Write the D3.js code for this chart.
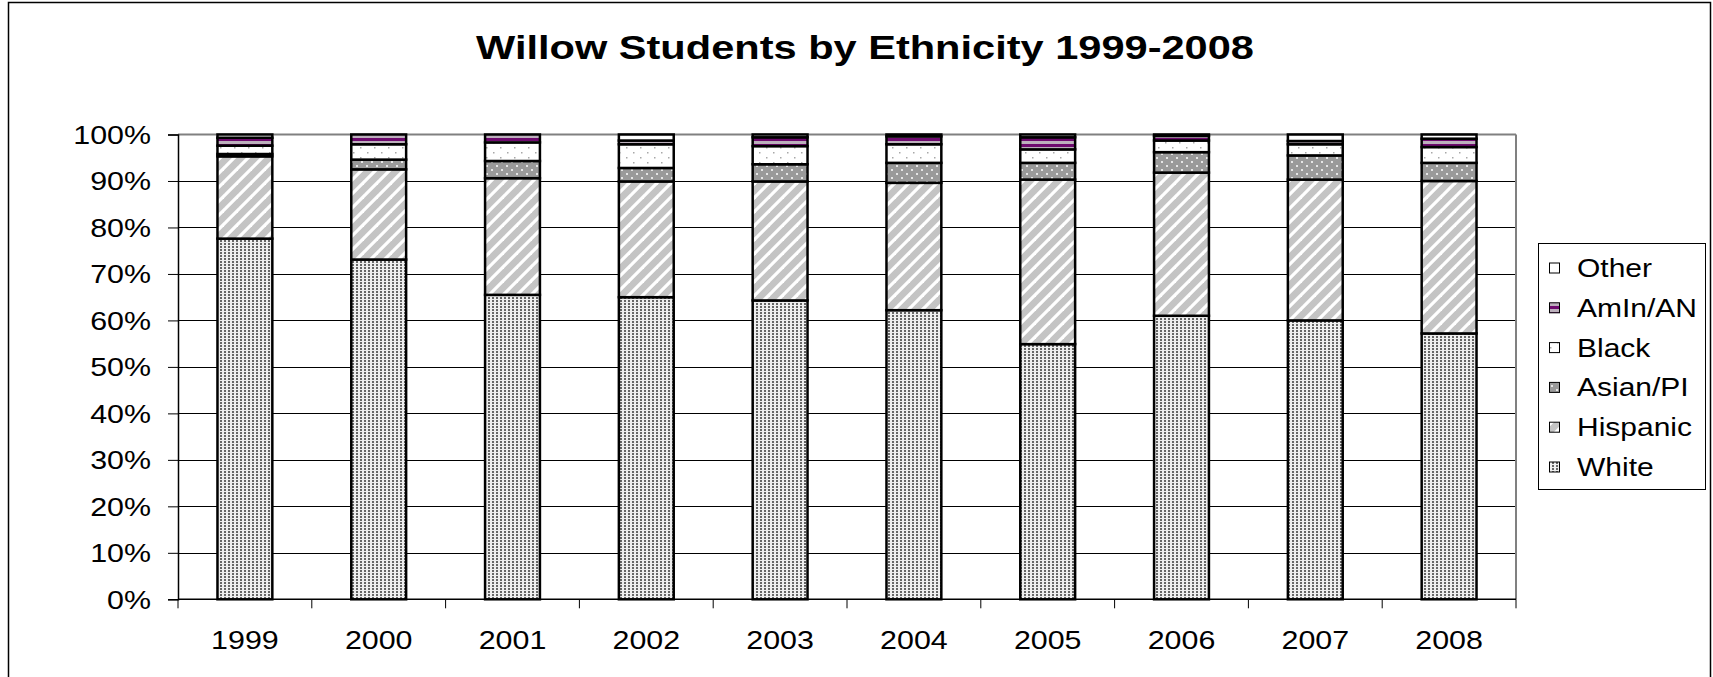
<!DOCTYPE html>
<html><head><meta charset="utf-8">
<script src="https://cdn.jsdelivr.net/npm/d3@7"></script>
<style>
html,body{margin:0;padding:0;background:#fff;}
svg{display:block;font-family:"Liberation Sans",Arial,sans-serif;}
</style></head>
<body>
<svg id="chart" width="1713" height="677"></svg>
<script>
const title = "Willow Students by Ethnicity 1999-2008";
const years = ["1999","2000","2001","2002","2003","2004","2005","2006","2007","2008"];
const seriesNames = ["White","Hispanic","Asian/PI","Black","AmIn/AN","Other"];
const white    = [77.6, 73.1, 65.5, 65.0, 64.3, 62.2, 54.9, 61.0, 60.0, 57.2];
const hispanic = [17.7, 19.4, 25.1, 24.9, 25.6, 27.4, 35.4, 30.8, 30.3, 32.8];
const asianPI  = [0.5, 2.1, 3.7, 2.9, 3.7, 4.3, 3.6, 4.4, 5.2, 3.9];
const black    = [1.8, 3.3, 4.0, 5.1, 3.9, 4.0, 2.9, 2.5, 2.4, 3.4];
const amInAN   = [1.7, 2.1, 1.7, 0.8, 1.9, 1.7, 2.6, 1.0, 0.7, 1.8];
const other    = [0.7, 0.0, 0.0, 1.3, 0.6, 0.4, 0.6, 0.3, 1.4, 0.9];
const yTicks = [0,10,20,30,40,50,60,70,80,90,100];
const yTickLabels = ["0%","10%","20%","30%","40%","50%","60%","70%","80%","90%","100%"];

const seriesValues = [white, hispanic, asianPI, black, amInAN, other];
const table = years.map((y,i)=>{
  const row = {year:y};
  seriesNames.forEach((s,k)=> row[s] = seriesValues[k][i]);
  return row;
});

const svg = d3.select("#chart");
const defs = svg.append("defs");

function pat(id,w,h,build){
  const p = defs.append("pattern").attr("id",id).attr("patternUnits","userSpaceOnUse")
    .attr("width",w).attr("height",h);
  build(p);
}
pat("pWhite",4,3,p=>{
  p.append("rect").attr("width",4).attr("height",3).attr("fill","#eeeeee");
  p.append("rect").attr("x",0).attr("y",0).attr("width",2).attr("height",2).attr("fill","#666666");
});
pat("pHisp",14,14,p=>{
  p.append("rect").attr("width",14).attr("height",14).attr("fill","#c4c4c4");
  const g = p.append("g").attr("stroke","#ffffff").attr("stroke-width",3.2);
  g.append("line").attr("x1",-2).attr("y1",16).attr("x2",16).attr("y2",-2);
  g.append("line").attr("x1",-9).attr("y1",9).attr("x2",9).attr("y2",-9);
  g.append("line").attr("x1",5).attr("y1",23).attr("x2",23).attr("y2",5);
});
pat("pAsian",10,8,p=>{
  p.append("rect").attr("width",10).attr("height",8).attr("fill","#9a9a9a");
  p.append("rect").attr("x",1).attr("y",1).attr("width",2).attr("height",2).attr("fill","#e6e6e6");
  p.append("rect").attr("x",6).attr("y",5).attr("width",2).attr("height",2).attr("fill","#e6e6e6");
});
pat("pBlack",14,10,p=>{
  p.append("rect").attr("width",14).attr("height",10).attr("fill","#ffffff");
  p.append("rect").attr("x",3).attr("y",2).attr("width",1.5).attr("height",1.5).attr("fill","#a8a8a8");
  p.append("rect").attr("x",10).attr("y",7).attr("width",1.5).attr("height",1.5).attr("fill","#a8a8a8");
});
pat("pAmIn",8,6,p=>{
  p.append("rect").attr("width",8).attr("height",6).attr("fill","#bcb0bc");
  p.append("rect").attr("y",0).attr("width",8).attr("height",3).attr("fill","#6e0a6e");
});
const fills = {"White":"url(#pWhite)","Hispanic":"url(#pHisp)","Asian/PI":"url(#pAsian)",
  "Black":"url(#pBlack)","AmIn/AN":"url(#pAmIn)","Other":"#ffffff"};

svg.append("rect").attr("x",8.5).attr("y",2.5).attr("width",1702).attr("height",720)
  .attr("fill","none").attr("stroke","#000").attr("stroke-width",1.5);

svg.append("text").attr("transform","translate(865,59) scale(1.26,1)")
  .attr("text-anchor","middle").attr("font-size",33).attr("font-weight","bold")
  .attr("fill","#000").text(title);

const L=178, R=1516, T=134.5, B=599.3;
const x = d3.scaleBand().domain(years).range([L,R]).paddingInner(0.59).paddingOuter(0.295);
const xc = d3.scaleBand().domain(years).range([L,R]);
const y = d3.scaleLinear().domain([0,100]).range([B,T]);

svg.append("g").selectAll("line").data(yTicks.filter(t=>t>0 && t<100)).join("line")
  .attr("x1",L).attr("x2",R).attr("y1",d=>Math.round(y(d))+0.5).attr("y2",d=>Math.round(y(d))+0.5)
  .attr("stroke","#000").attr("stroke-width",1);
svg.append("line").attr("x1",L).attr("x2",R).attr("y1",y(100)).attr("y2",y(100))
  .attr("stroke","#808080").attr("stroke-width",2);
svg.append("line").attr("x1",R).attr("x2",R).attr("y1",y(100)).attr("y2",B)
  .attr("stroke","#808080").attr("stroke-width",2);

const yAxis = d3.axisLeft(y).tickValues(yTicks).tickSize(10).tickFormat(()=> "");
const ya = svg.append("g").attr("transform",`translate(${L},0)`).call(yAxis);
ya.select(".domain").attr("stroke","#000").attr("stroke-width",1.5);
ya.selectAll(".tick line").attr("stroke","#000");
svg.append("g").selectAll("text").data(yTicks).join("text")
  .attr("transform",(d)=>`translate(151,${y(d)+9.5}) scale(1.17,1)`)
  .attr("text-anchor","end").attr("font-size",26).attr("fill","#000")
  .text((d,i)=>yTickLabels[i]);

const xa = svg.append("g").attr("transform",`translate(0,${B})`);
xa.append("line").attr("x1",L).attr("x2",R).attr("stroke","#000").attr("stroke-width",1.5);
const bounds = years.map(d=>xc(d)).concat([R]);
xa.selectAll("line.tk").data(bounds).join("line").attr("class","tk")
  .attr("x1",d=>d).attr("x2",d=>d).attr("y1",0).attr("y2",9).attr("stroke","#000");
svg.append("g").selectAll("text").data(years).join("text")
  .attr("transform",d=>`translate(${xc(d)+xc.bandwidth()/2},649) scale(1.17,1)`)
  .attr("text-anchor","middle").attr("font-size",26).attr("fill","#000").text(d=>d);

const stack = d3.stack().keys(seriesNames)(table);
svg.append("g").selectAll("g").data(stack).join("g")
  .attr("fill",d=>fills[d.key])
  .selectAll("rect").data(d=>d.map(v=>({v,year:v.data.year}))).join("rect")
  .attr("x",d=>x(d.year)).attr("width",x.bandwidth())
  .attr("y",d=>y(d.v[1])).attr("height",d=>Math.max(0,y(d.v[0])-y(d.v[1])))
  .attr("stroke","#000").attr("stroke-width",2.5);

const lg = svg.append("g");
lg.append("rect").attr("x",1538.5).attr("y",243.5).attr("width",167).attr("height",246)
  .attr("fill","#fff").attr("stroke","#000").attr("stroke-width",1);
const legendOrder = seriesNames.slice().reverse();
const ly = d3.scalePoint().domain(legendOrder).range([268,467]);
const le = lg.selectAll("g.le").data(legendOrder).join("g").attr("class","le");
le.append("rect").attr("x",1549.5).attr("y",d=>ly(d)-5).attr("width",10).attr("height",10)
  .attr("fill",d=>fills[d]).attr("stroke","#000").attr("stroke-width",1);
le.append("text").attr("transform",d=>`translate(1577,${ly(d)+9}) scale(1.2,1)`)
  .attr("font-size",25).attr("fill","#000").text(d=>d);
</script>
</body></html>
